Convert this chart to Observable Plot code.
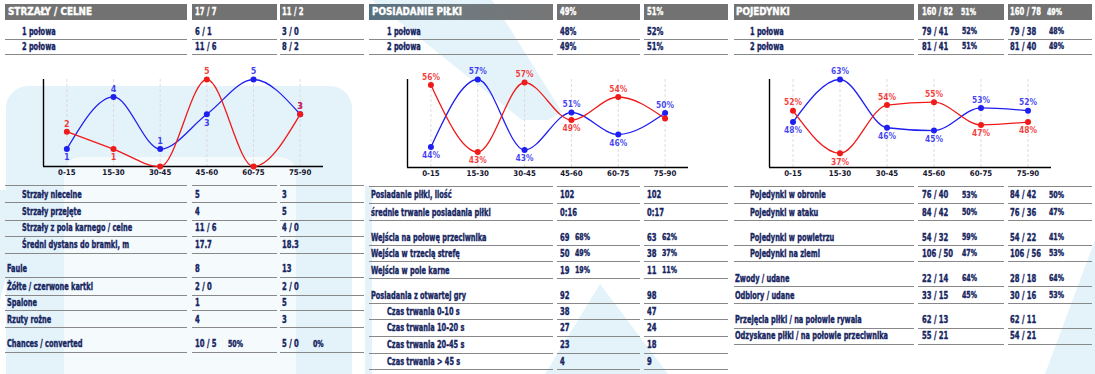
<!DOCTYPE html>
<html><head><meta charset="utf-8">
<script src="https://cdn.jsdelivr.net/npm/d3@7"></script>
<script src="https://cdn.jsdelivr.net/npm/@observablehq/plot@0.6"></script>
<style>
body{margin:0;background:#fff;}
#root{position:relative;width:1095px;height:374px;overflow:hidden;font-family:"DejaVu Sans Condensed","DejaVu Sans",sans-serif;font-weight:bold;}
.bg{position:absolute;background:#e2f2f9;}
.hdr{position:absolute;top:4px;height:16px;background:#727272;}
.ln{position:absolute;height:0;border-top:1.7px solid #888;}
.t{position:absolute;white-space:nowrap;color:#16255f;line-height:12px;transform-origin:0 50%;-webkit-text-stroke:0.35px currentColor;}
.chart{position:absolute;top:60px;}
</style></head>
<body><div id="root"></div>
<script>
// ---------- DATA ----------
const periods = ["0-15","15-30","30-45","45-60","60-75","75-90"];

const shotsHome = [1,4,1,3,5,3];
const shotsAway = [2,1,0,5,0,3];
const shotsHomeLabels = ["1","4","1","3","5","3"];
const shotsAwayLabels = ["2","1","","5","","3"];

const possHome = [43.8,57.3,43.2,50.7,46.3,50.6];
const possAway = [56.2,42.8,56.7,49.2,53.8,49.5];
const possHomeLabels = ["44%","57%","43%","51%","46%","50%"];
const possAwayLabels = ["56%","43%","57%","49%","54%",""];

const duelsHome = [48,63,46,45,53,52];
const duelsAway = [52,37,54,55,47,48];
const duelsHomeLabels = ["48%","63%","46%","45%","53%","52%"];
const duelsAwayLabels = ["52%","37%","54%","55%","47%","48%"];

const shotsTitle = ["STRZAŁY / CELNE","17 / 7","11 / 2"];
const shotsTitlePct = ["",""];
const halfRows = ["1 połowa","2 połowa"];
const shotsHalfHome = ["6 / 1","11 / 6"];
const shotsHalfAway = ["3 / 0","8 / 2"];
const shotsHalfHomePct = ["",""];
const shotsHalfAwayPct = ["",""];
const shotRows = ["Strzały niecelne","Strzały przejęte","Strzały z pola karnego / celne","Średni dystans do bramki, m","Faule","Żółte / czerwone kartki","Spalone","Rzuty rożne","Chances / converted"];
const shotHome = ["5","4","11 / 6","17.7","8","2 / 0","1","4","10 / 5"];
const shotHomePct = ["","","","","","","","","50%"];
const shotAway = ["3","5","4 / 0","18.3","13","2 / 0","5","3","5 / 0"];
const shotAwayPct = ["","","","","","","","","0%"];

const possTitle = ["POSIADANIE PIŁKI","49%","51%"];
const possTitlePct = ["",""];
const possHalfHome = ["48%","49%"];
const possHalfAway = ["52%","51%"];
const possHalfHomePct = ["",""];
const possHalfAwayPct = ["",""];
const possRows = ["Posiadanie piłki, ilość","średnie trwanie posiadania piłki","Wejścia na połowę przeciwnika","Wejścia w trzecią strefę","Wejścia w pole karne","Posiadania z otwartej gry","Czas trwania 0-10 s","Czas trwania 10-20 s","Czas trwania 20-45 s","Czas trwania > 45 s"];
const possRowHome = ["102","0:16","69","50","19","92","38","27","23","4"];
const possRowHomePct = ["","","68%","49%","19%","","","","",""];
const possRowAway = ["102","0:17","63","38","11","98","47","24","18","9"];
const possRowAwayPct = ["","","62%","37%","11%","","","","",""];

const duelTitle = ["POJEDYNKI","160 / 82","160 / 78"];
const duelTitlePct = ["51%","49%"];
const duelHalfHome = ["79 / 41","81 / 41"];
const duelHalfAway = ["79 / 38","81 / 40"];
const duelHalfHomePct = ["52%","51%"];
const duelHalfAwayPct = ["48%","49%"];
const duelRows = ["Pojedynki w obronie","Pojedynki w ataku","Pojedynki w powietrzu","Pojedynki na ziemi","Zwody / udane","Odbiory / udane","Przejęcia piłki / na połowie rywala","Odzyskane piłki / na połowie przeciwnika"];
const duelRowHome = ["76 / 40","84 / 42","54 / 32","106 / 50","22 / 14","33 / 15","62 / 13","55 / 21"];
const duelRowHomePct = ["53%","50%","59%","47%","64%","45%","",""];
const duelRowAway = ["84 / 42","76 / 36","54 / 22","106 / 56","28 / 18","30 / 16","62 / 11","54 / 21"];
const duelRowAwayPct = ["50%","47%","41%","53%","64%","53%","",""];

// ---------- LAYOUT ----------
const root = document.getElementById("root");
const FONT = '"DejaVu Sans Condensed","DejaVu Sans",sans-serif';
const FS = 9.8, PS = 8;
const cv = document.createElement("canvas").getContext("2d");
function mw(s, size){ cv.font = "bold " + size + "px " + FONT; return cv.measureText(s).width; }
const KL = 153 / mw(duelRows[7], FS);
const KV = 31 / mw(duelTitle[1], FS);
const KH = KL * 1.34;
const KP = 15 / mw(duelRowHomePct[0], PS);

function el(cls, css){const d=document.createElement("div");d.className=cls;Object.assign(d.style,css);root.appendChild(d);return d;}
function txt(x, cy, s, size, k, color){ if(!s) return; const d=el("t",{left:x+"px",top:(cy-6)+"px",fontSize:size+"px",transform:`scaleX(${k})`}); if(color) d.style.color=color; d.textContent=s; }
function poly(pts, color){ el("bg",{left:"0",top:"0",width:"1095px",height:"374px",background:color||"#e2f2f9",clipPath:"polygon("+pts.map(p=>p[0]+"px "+p[1]+"px").join(",")+")"}); }
function rrect(x,y,w,h,r,color){ el("bg",{left:x+"px",top:y+"px",width:w+"px",height:h+"px",borderRadius:r+"px",background:color}); }

// background decoration
rrect(6,86,346,320,22,"#e4f3fa");
rrect(64,157,232,260,16,"#f5fafd");
poly([[0,190],[30,190],[0,300]],"#e4f3fa");
poly([[372,0],[492,0],[562,112],[548,120],[522,120]],"#e4f3fa");
poly([[600,284],[545,374],[668,374]],"#e4f3fa");
poly([[365,186],[372,186],[372,374],[365,374]],"#e4f3fa");
poly([[1045,374],[1095,240],[1095,374]],"#e4f3fa");

const panels = [
 {cols:[[5,187],[192,277],[280,364]], tx:[7,22], vx:[195,282], px:[228,313], hpx:[228,313],
  title:shotsTitle, titlePct:shotsTitlePct, hHome:shotsHalfHome, hAway:shotsHalfAway, hHomePct:shotsHalfHomePct, hAwayPct:shotsHalfAwayPct,
  top:185, ys:[194.7,212,228,245,269,287,302.7,319.7,344], indent:[1,1,1,1,0,0,0,0,0],
  rows:shotRows, home:shotHome, homePct:shotHomePct, away:shotAway, awayPct:shotAwayPct, grad:false},
 {cols:[[369,553],[557,640],[644,728]], tx:[371,387], vx:[560,647], px:[575,662], hpx:[575,662],
  title:possTitle, titlePct:possTitlePct, hHome:possHalfHome, hAway:possHalfAway, hHomePct:possHalfHomePct, hAwayPct:possHalfAwayPct,
  top:186, ys:[195.3,212.7,237.7,253.5,270.5,295.7,311.5,328.3,345,361.7], indent:[0,0,0,0,0,0,1,1,1,1],
  rows:possRows, home:possRowHome, homePct:possRowHomePct, away:possRowAway, awayPct:possRowAwayPct, grad:true},
 {cols:[[734,914],[918,1004],[1008,1092]], tx:[735,750], vx:[922,1010], px:[962,1049], hpx:[961,1047],
  title:duelTitle, titlePct:duelTitlePct, hHome:duelHalfHome, hAway:duelHalfAway, hHomePct:duelHalfHomePct, hAwayPct:duelHalfAwayPct,
  top:186, ys:[195.3,212.7,237.7,253.5,278.7,295.7,320.2,336.2], indent:[1,1,1,1,0,0,0,0],
  rows:duelRows, home:duelRowHome, homePct:duelRowHomePct, away:duelRowAway, awayPct:duelRowAwayPct, grad:false}
];

function hline(P, y){ P.cols.forEach(c=>el("ln",{left:c[0]+"px",top:y+"px",width:(c[1]-c[0])+"px"})); }
panels.forEach(P=>{
  P.cols.forEach((c,j)=>{ const h=el("hdr",{left:c[0]+"px",width:(c[1]-c[0])+"px"}); if(j===0&&P.grad) h.style.background="linear-gradient(90deg,#57707f,#6f7a80 45%,#767676)"; });
  txt(P.tx[0]+1,12,P.title[0],FS,KH,"#fff");
  txt(P.vx[0],12,P.title[1],FS,KV,"#fff"); txt(P.vx[1],12,P.title[2],FS,KV,"#fff");
  txt(P.hpx[0],12.5,P.titlePct[0],PS,KP,"#fff"); txt(P.hpx[1],12.5,P.titlePct[1],PS,KP,"#fff");
  [31.5,46.5].forEach((y,i)=>{
    txt(P.tx[1],y,halfRows[i],FS,KL);
    txt(P.vx[0],y,P.hHome[i],FS,KV); txt(P.vx[1],y,P.hAway[i],FS,KV);
    txt(P.px[0],y+0.5,P.hHomePct[i],PS,KP); txt(P.px[1],y+0.5,P.hAwayPct[i],PS,KP);
    hline(P,y+7.5);
  });
  hline(P,P.top);
  P.ys.forEach((y,i)=>{
    txt(P.indent[i]?P.tx[1]:P.tx[0],y,P.rows[i],FS,KL);
    txt(P.vx[0],y,P.home[i],FS,KV); txt(P.vx[1],y,P.away[i],FS,KV);
    txt(P.px[0],y+0.5,P.homePct[i],PS,KP); txt(P.px[1],y+0.5,P.awayPct[i],PS,KP);
    hline(P,y+7.6);
  });
});

// ---------- CHARTS ----------
const BLUE = "#1f1ff0", RED = "#f01a1a";
function lineChart(o){
  const data=[];
  periods.forEach((p,i)=>{
    data.push({i,v:o.home[i],s:"home",label:o.homeLabels[i],up:o.home[i]>=o.away[i]});
    data.push({i,v:o.away[i],s:"away",label:o.awayLabels[i],up:o.away[i]>=o.home[i]});
  });
  const svg = Plot.plot({
    width:365, height:125, marginLeft:o.ml, marginRight:o.mr, marginTop:o.mt, marginBottom:o.mb,
    x:{domain:[-0.5,5.5], ticks:6, tickFormat:i=>periods[i], tickSize:0, tickPadding:3, label:null},
    y:{domain:o.domain, axis:null},
    color:{domain:["home","away"], range:[BLUE,RED]},
    style:{background:"transparent", fontFamily:FONT, fontSize:"7.8px", fontWeight:"bold", color:"#15152e", overflow:"visible"},
    marks:[
      Plot.ruleX(d3.range(periods.length),{stroke:"#dcd6d6",strokeDasharray:"3,2",strokeWidth:0.9}),
      Plot.ruleX([-0.5],{stroke:"#000",strokeWidth:1.4}),
      Plot.ruleY([o.domain[0]],{stroke:"#000",strokeWidth:1.4}),
      Plot.line(data,{x:"i",y:"v",z:"s",stroke:"s",curve:"monotone-x",strokeWidth:1.3}),
      Plot.dot(data,{x:"i",y:"v",fill:"s",r:3}),
      Plot.text(data.filter(d=>d.up),{x:"i",y:"v",text:"label",fill:"s",dy:-8,fontSize:o.fs,fillOpacity:0.85}),
      Plot.text(data.filter(d=>!d.up),{x:"i",y:"v",text:"label",fill:"s",dy:8.5,fontSize:o.fs,fillOpacity:0.85})
    ]
  });
  svg.classList.add("chart"); svg.style.left=o.left+"px";
  root.appendChild(svg);
}
lineChart({home:shotsHome,away:shotsAway,homeLabels:shotsHomeLabels,awayLabels:shotsAwayLabels,domain:[0,5],ml:43,mr:42,mt:19,mb:19,left:0,fs:9});
lineChart({home:possHome,away:possAway,homeLabels:possHomeLabels,awayLabels:possAwayLabels,domain:[39.7,57.3],ml:42,mr:42,mt:19,mb:18,left:365,fs:8.4});
lineChart({home:duelsHome,away:duelsAway,homeLabels:duelsHomeLabels,awayLabels:duelsAwayLabels,domain:[32,63],ml:39,mr:44,mt:19,mb:18,left:730,fs:8.4});
</script></body></html>
